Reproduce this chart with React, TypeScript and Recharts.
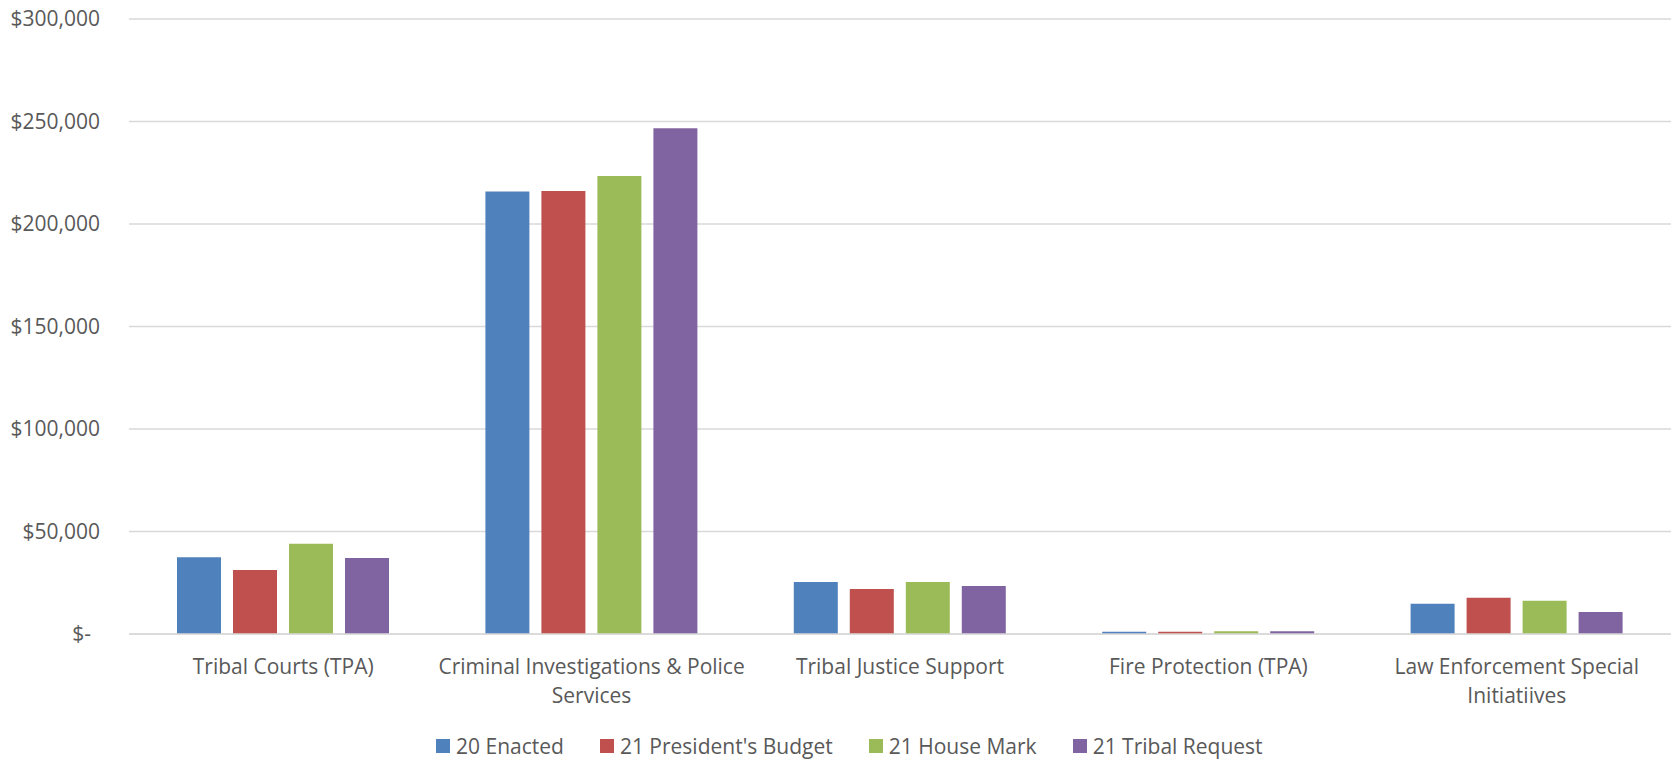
import React from "react";
import {
  BarChart,
  Bar,
  XAxis,
  YAxis,
  CartesianGrid,
  Legend,
} from "recharts";

const categories = [
  "Tribal Courts (TPA)",
  "Criminal Investigations & Police Services",
  "Tribal Justice Support",
  "Fire Protection (TPA)",
  "Law Enforcement Special Initiatiives",
];

const enacted20 = [37400, 215800, 25400, 1100, 14800];
const presidentsBudget21 = [31200, 216100, 22000, 1100, 17700];
const houseMark21 = [44000, 223400, 25400, 1400, 16200];
const tribalRequest21 = [37100, 246700, 23400, 1400, 10700];

const yTicks = [0, 50000, 100000, 150000, 200000, 250000, 300000];

const seriesNames = [
  "20 Enacted",
  "21 President's Budget",
  "21 House Mark",
  "21 Tribal Request",
];
const seriesColors = ["#4F81BD", "#C0504D", "#9BBB59", "#8064A2"];

const data = categories.map((name, i) => ({
  name,
  enacted20: enacted20[i],
  presidentsBudget21: presidentsBudget21[i],
  houseMark21: houseMark21[i],
  tribalRequest21: tribalRequest21[i],
}));
const seriesKeys = ["enacted20", "presidentsBudget21", "houseMark21", "tribalRequest21"];

const FONT = "'Open Sans', sans-serif";
const TEXT_COLOR = "#595959";
const LABEL_WRAP = 330;

function formatMoney(v: number) {
  if (v === 0) return "$-";
  return "$" + v.toLocaleString("en-US");
}

let ctx: CanvasRenderingContext2D | null = null;
function measure(s: string) {
  if (!ctx) {
    ctx = document.createElement("canvas").getContext("2d");
    if (ctx) ctx.font = "21px 'Open Sans'";
  }
  return ctx ? ctx.measureText(s).width : s.length * 10;
}

// greedy word wrap, like the spreadsheet does for long category names
function wrap(label: string, maxWidth: number) {
  const lines: string[] = [];
  let cur = "";
  for (const w of label.split(" ")) {
    const next = cur ? cur + " " + w : w;
    if (cur && measure(next) > maxWidth) {
      lines.push(cur);
      cur = w;
    } else {
      cur = next;
    }
  }
  if (cur) lines.push(cur);
  return lines;
}

function YTick(props: any) {
  const { x, y, payload } = props;
  const shift = payload.value === 0 ? 9 : 0;
  return (
    <text
      x={x - shift}
      y={y}
      dy="0.35em"
      textAnchor="end"
      fill={TEXT_COLOR}
      fontSize={21}
      fontFamily={FONT}
    >
      {formatMoney(payload.value)}
    </text>
  );
}

function XTick(props: any) {
  const { x, y, payload } = props;
  const lines = wrap(String(payload.value), LABEL_WRAP);
  return (
    <text
      x={x}
      y={y}
      textAnchor="middle"
      fill={TEXT_COLOR}
      fontSize={21}
      fontFamily={FONT}
    >
      {lines.map((l, i) => (
        <tspan key={i} x={x} dy={i === 0 ? "0.71em" : 29}>
          {l}
        </tspan>
      ))}
    </text>
  );
}

function LegendContent() {
  return (
    <div
      style={{
        display: "flex",
        alignItems: "center",
        paddingLeft: 436,
        height: 30,
        fontFamily: FONT,
        fontSize: 21,
        color: TEXT_COLOR,
      }}
    >
      {seriesNames.map((n, i) => (
        <div key={n} style={{ display: "flex", alignItems: "center", marginRight: 36 }}>
          <span
            style={{
              width: 14,
              height: 14,
              background: seriesColors[i],
              display: "inline-block",
              marginRight: 6,
            }}
          />
          <span>{n}</span>
        </div>
      ))}
    </div>
  );
}

export default function App() {
  return (
    <div style={{ position: "absolute", left: 0, top: 0, background: "#fff" }}>
      <BarChart
        width={1675}
        height={761}
        data={data}
        margin={{ top: 19, right: 4, bottom: 0, left: 0 }}
        barSize={44}
        barGap={12}
      >
        <CartesianGrid vertical={false} stroke="#D9D9D9" strokeWidth={1.3} />
        <XAxis
          dataKey="name"
          interval={0}
          height={97}
          tickLine={false}
          tickSize={0}
          tickMargin={25}
          axisLine={{ stroke: "#D9D9D9", strokeWidth: 1.3 }}
          tick={(p: any) => <XTick {...p} />}
        />
        <YAxis
          width={129}
          domain={[0, 300000]}
          ticks={yTicks}
          axisLine={false}
          tickLine={false}
          tickSize={0}
          tickMargin={29}
          tick={(p: any) => <YTick {...p} />}
        />
        <Legend verticalAlign="bottom" height={30} content={<LegendContent />} />
        {seriesKeys.map((k, i) => (
          <Bar
            key={k}
            dataKey={k}
            name={seriesNames[i]}
            fill={seriesColors[i]}
            isAnimationActive={false}
          />
        ))}
      </BarChart>
    </div>
  );
}
